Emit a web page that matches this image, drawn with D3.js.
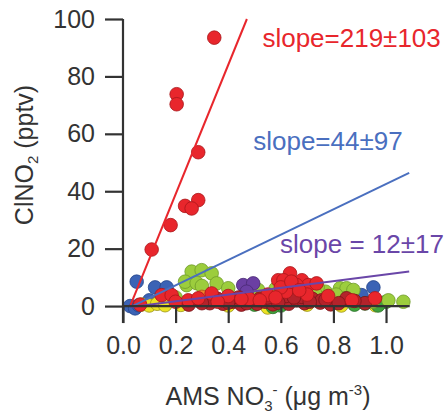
<!DOCTYPE html>
<html><head><meta charset="utf-8">
<script src="https://cdn.jsdelivr.net/npm/d3@7"></script>
<style>body{margin:0;background:#fff}svg{display:block}text{font-family:"Liberation Sans",Arial,sans-serif}</style>
</head><body>
<svg id="c" width="447" height="418"></svg>
<script>
const xTicks = [0.0, 0.2, 0.4, 0.6, 0.8, 1.0];
const yTicks = [0, 20, 40, 60, 80, 100];

const bluePts = [[0.052,8.5],[0.122,6.5],[0.166,6.5],[0.027,0],[0.046,-0.8],[0.952,6.5],[0.907,3.8],[0.80,2.5],[0.10,2],[0.43,2.5],[0.06,0.3]];
const yellowPts = [[0.07,0.5],[0.10,0.2],[0.13,0.8],[0.16,0.3],[0.597,3.2],[0.55,-0.5],[0.96,0.3],[0.40,0.2],[0.70,0.5],[0.22,0.4],[0.83,0.2]];
const greenPts = [[0.92,0.9],[1.0,1.5],[0.787,2.7],[0.60,0.2],[0.50,0.5],[0.88,0.5],[0.57,-0.3],[0.97,0.2]];
const lightGreenPts = [[0.261,12],[0.299,12.5],[0.337,11.4],[0.242,7.3],[0.236,8.5],[0.356,7.9],[0.40,6.2],[0.514,5.6],[0.825,6.2],[0.85,6.2],[0.876,5.6],[0.844,2.7],[1.009,2.0],[1.066,1.5],[0.77,5],[0.20,3],[0.28,8],[0.32,3],[0.74,6.5],[0.58,6],[0.95,1.5],[0.30,7],[0.62,4],[0.73,4.5],[0.81,4]];
const purplePts = [[0.457,7.3],[0.495,7.9],[0.47,5]];
const orangePts = [[0.30,3.2],[0.54,2.5],[0.70,2]];
const redPts = [[0.347,93.5],[0.204,73.8],[0.204,70.3],[0.286,53.6],[0.286,36.9],[0.236,34.9],[0.261,34.0],[0.181,28.2],[0.109,19.7],
  [0.147,3.8],[0.185,3.8],[0.248,2.0],[0.337,4.4],[0.286,2.7],[0.635,11.4],[0.59,9],[0.61,9],[0.68,9],[0.705,7.3],[0.66,7.3],[0.736,7.9],[0.958,2.7],[0.40,3.5],[0.48,2.5],[0.55,4],[0.62,5],[0.70,4],[0.78,3.5],[0.87,2.0],[0.065,0.5],[0.20,1.5],
  [0.60,6.5],[0.64,8.5],[0.67,5.5],[0.58,3],[0.52,2],[0.45,2.5],[0.36,1.5]];
const darkRedPts = [[0.33,1.0],[0.38,0.8],[0.42,1.5],[0.45,0.5],[0.48,1.8],[0.51,0.8],[0.54,1.5],[0.57,0.6],[0.60,1.8],[0.63,0.8],[0.66,2.0],[0.69,1.0],[0.72,2.5],[0.75,1.2],[0.79,0.6],[0.85,2.7],[0.755,2.0],[0.55,3],[0.62,3.5],[0.68,3.2],[0.44,3],[0.25,0.5],[0.30,1.0],[0.36,2.5],[0.92,1.0],
  [0.40,1.2],[0.47,1.0],[0.52,2.6],[0.59,1.2],[0.65,3.0],[0.71,1.5],[0.77,2.2],[0.82,1.0],[0.88,1.8]];

// fit lines: [x0,y0],[x1,y1]
const redFit = [[0.027,0],[0.471,100]];
const blueFit = [[0.03,-0.3],[1.088,46.4]];
const purpleFit = [[0.03,-0.3],[1.088,12]];

const labels = [
  {text:"slope=219\u00B1103", color:"#e8262c", x:0.53, y:90.3},
  {text:"slope=44\u00B197", color:"#4a6fbf", x:0.495, y:54.4},
  {text:"slope = 12\u00B117", color:"#6a46a8", x:0.597, y:18.6}
];

const svg = d3.select("#c");
const x = d3.scaleLinear().domain([0, 1.09]).range([123, 409.7]);
const y = d3.scaleLinear().domain([-5.9, 100]).range([323, 19]);
const axisCol = "#333";

const series = [
  {pts:bluePts, fill:"#3b63b5", stroke:"#24458a"},
  {pts:yellowPts, fill:"#ece324", stroke:"#9a9418"},
  {pts:greenPts, fill:"#3fa23c", stroke:"#2a7028"},
  {pts:lightGreenPts, fill:"#9ccd3d", stroke:"#6f9a2a"},
  {pts:purplePts, fill:"#6b3fa3", stroke:"#4a2a75"},
  {pts:orangePts, fill:"#f0842a", stroke:"#b05a18"},
  {pts:darkRedPts, fill:"#b3232b", stroke:"#7a1418"},
  {pts:redPts, fill:"#e8262c", stroke:"#a8161b"}
];
series.forEach(s => {
  svg.append("g").selectAll("circle").data(s.pts).join("circle")
    .attr("cx", d => x(d[0])).attr("cy", d => y(d[1])).attr("r", 6.8)
    .attr("fill", s.fill).attr("stroke", s.stroke).attr("stroke-width", 0.8);
});

const line = d3.line().x(d => x(d[0])).y(d => y(d[1]));
[[redFit,"#e8262c"],[blueFit,"#4a6fbf"],[purpleFit,"#6a46a8"]].forEach(([p,c]) => {
  svg.append("path").attr("d", line(p)).attr("fill","none").attr("stroke",c).attr("stroke-width",2);
});

// y axis
const yAxis = d3.axisLeft(y).tickValues(yTicks).tickSize(18).tickPadding(10).tickFormat(d3.format("d"));
const gy = svg.append("g").attr("transform", `translate(${x(0)},0)`).call(yAxis);
gy.select(".domain").remove();
gy.append("line").attr("x1",0).attr("x2",0).attr("y1",y(100)).attr("y2",y(-5.9)).attr("stroke",axisCol).attr("stroke-width",2.2);
gy.selectAll(".tick line").attr("stroke",axisCol).attr("stroke-width",2.2);
gy.selectAll(".tick text").attr("fill",axisCol).attr("font-size",25);

// x axis at y=0
const xAxis = d3.axisBottom(x).tickValues(xTicks).tickSize(17).tickPadding(13).tickFormat(d3.format(".1f"));
const gx = svg.append("g").attr("transform", `translate(0,${y(0)})`).call(xAxis);
gx.select(".domain").remove();
gx.append("line").attr("x1",x(0)).attr("x2",x(1.09)).attr("y1",0).attr("y2",0).attr("stroke",axisCol).attr("stroke-width",2.2);
gx.selectAll(".tick line").attr("stroke",axisCol).attr("stroke-width",2.2);
gx.selectAll(".tick text").attr("fill",axisCol).attr("font-size",25);

// slope labels
labels.forEach(l => {
  svg.append("text").attr("x", x(l.x)).attr("y", y(l.y)).attr("fill", l.color).attr("font-size", 26).text(l.text);
});

// y label
const yl = svg.append("text").attr("transform","translate(33,155) rotate(-90)").attr("text-anchor","middle")
  .attr("fill",axisCol).attr("font-size",25);
yl.append("tspan").text("ClNO");
yl.append("tspan").attr("font-size",15).attr("dy",5).text("2");
yl.append("tspan").attr("dy",-5).text(" (pptv)");

// x label
const xl = svg.append("text").attr("x",268).attr("y",405).attr("text-anchor","middle").attr("fill",axisCol).attr("font-size",25);
xl.append("tspan").text("AMS NO");
xl.append("tspan").attr("font-size",15).attr("dy",6).text("3");
xl.append("tspan").attr("font-size",15).attr("dy",-16).text("-");
xl.append("tspan").attr("dy",10).text(" (\u03BCg m");
xl.append("tspan").attr("font-size",15).attr("dy",-10).text("-3");
xl.append("tspan").attr("dy",10).text(")");
</script>
</body></html>
